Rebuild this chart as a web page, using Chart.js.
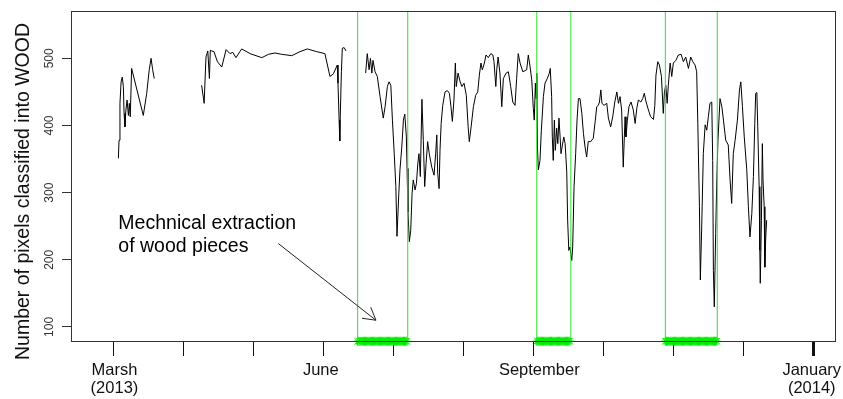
<!DOCTYPE html>
<html>
<head>
<meta charset="utf-8">
<script src="https://cdn.jsdelivr.net/npm/chart.js@4.4.1/dist/chart.umd.min.js"></script>
<style>
  html, body { margin: 0; padding: 0; background: #fff; }
  canvas { display: block; }
</style>
</head>
<body>
<canvas id="wood" width="843" height="399"></canvas>
<script>
// Time axis: days counted from 1 March 2013.
// Daily count of pixels classified into WOOD, three observation periods.
const series1Days = [2.2, 2.5, 2.9, 3.4, 3.9, 4.4, 4.7, 5.1, 5.5, 6.0, 6.6, 7.0, 7.4, 8.0, 13.1, 14.6, 15.7, 16.5, 17.2, 17.9];
const series1Wood = [351, 378, 433, 465, 472, 458, 418, 398, 423, 438, 415, 433, 413, 485, 415, 448, 483, 500, 483, 470];

const series2Days = [38.6, 39.7, 40.5, 41.3, 42.0, 42.4, 43.0, 44.0, 45.5, 47.4, 49.3, 51.0, 52.2, 53.6, 56.1, 59.8, 64.9, 67.8,
  70.7, 73.6, 78.0, 81.6, 84.8, 88.9, 92.5, 94.7, 96.2, 97.9, 98.2, 98.7, 99.0, 99.2, 99.7, 100.1, 100.9, 101.7];
const series2Wood = [460, 433, 502, 511, 470, 512, 511, 510, 495, 487, 513, 507, 509, 501, 514, 507, 501, 506,
  508, 506, 504, 510, 514, 510, 507, 473, 477, 490, 463, 408, 377, 413, 480, 515, 516, 511];

const series3Days = [
  110.3, 111.0, 111.8, 112.4, 113.0, 113.5, 114.4, 115.4, 116.6, 118.0, 118.8, 119.8, 120.5, 121.3, 122.0, 122.8, 123.5, 124.0, 124.8, 125.3,
  126.1, 126.8, 127.4, 128.1, 128.4, 128.8, 129.4, 130.0, 130.6, 131.1, 131.9, 132.5, 133.1, 133.6, 134.2, 134.9, 135.5, 136.1, 136.7, 137.4,
  138.1, 139.2, 140.2, 140.9, 141.4, 141.8, 142.4, 142.8, 143.3, 144.0, 145.0, 146.0, 146.9, 147.6, 148.2, 148.9, 149.5, 149.9, 150.7, 151.6,
  152.4, 153.3, 154.3, 155.1, 155.6, 156.4, 157.4, 158.4, 159.3, 160.0, 160.7, 161.3, 162.2, 162.9, 163.9, 165.0, 165.9, 166.4, 167.2, 167.6,
  168.2, 169.0, 169.8, 170.5, 171.7, 172.7, 173.7, 174.6, 175.6, 176.3, 177.0, 177.8, 179.0, 180.7, 181.4, 182.2, 182.9, 183.6, 184.0, 184.5,
  184.8, 185.1, 185.4, 185.8, 186.5, 187.1, 188.0, 188.7, 189.7, 190.6, 191.0, 191.6, 191.9, 192.3, 192.8, 193.2, 193.8, 194.3, 194.8, 195.3,
  195.7, 196.3, 196.9, 197.5, 198.2, 198.6, 199.1, 199.6, 200.4, 200.8, 201.4, 202.1, 202.7, 203.3, 204.0, 204.8, 205.5, 206.2, 206.9, 207.6,
  208.7, 209.8, 210.7, 211.3, 212.0, 212.5, 213.1, 213.6, 214.5, 215.7, 216.4, 217.4, 218.3, 219.2, 220.1, 220.8, 221.5, 222.2, 222.9, 223.7,
  224.1, 224.7, 225.4, 226.3, 227.3, 228.1, 228.8, 229.5, 230.6, 231.4, 232.1, 232.9, 233.9, 234.9, 236.1, 236.7, 237.2, 238.0, 238.7, 239.6,
  240.4, 240.9, 241.5, 242.1, 242.6, 243.4, 244.1, 244.8, 245.9, 247.0, 248.2, 249.2, 250.2, 251.4, 252.4, 253.3, 254.3, 255.0, 255.5, 256.2,
  256.6, 257.2, 257.9, 258.7, 259.4, 260.1, 260.8, 261.6, 262.0, 262.3, 262.7, 263.3, 263.8, 264.3, 265.2, 266.0, 266.7, 267.7, 268.8, 269.6,
  270.3, 271.0, 271.8, 272.8, 273.7, 274.3, 275.0, 275.8, 276.9, 277.6, 278.3, 279.1, 279.8, 280.4, 280.8, 281.3, 281.7, 282.3, 282.6, 282.8,
  283.3, 283.7, 284.0, 284.5, 284.8, 285.2, 285.6];
const series3Wood = [
  478, 507, 483, 500, 478, 497, 480, 473, 443, 411, 428, 458, 465, 460, 408, 358, 309, 235, 299, 334,
  368, 408, 417, 383, 336, 271, 227, 244, 299, 319, 304, 314, 343, 358, 324, 439, 378, 309, 343, 376,
  358, 338, 326, 358, 386, 329, 306, 363, 403, 430, 450, 452, 448, 428, 406, 438, 493, 458, 478, 465,
  458, 463, 445, 398, 376, 398, 428, 445, 450, 475, 493, 483, 493, 505, 501, 507, 505, 495, 458, 483,
  502, 478, 428, 470, 478, 480, 458, 435, 430, 470, 507, 493, 480, 483, 505, 487, 468, 425, 408, 463,
  440, 478, 368, 334, 348, 393, 443, 463, 470, 478, 485, 443, 383, 348, 408, 363, 396, 373, 411, 383,
  358, 371, 383, 373, 331, 259, 214, 219, 199, 219, 309, 358, 408, 440, 440, 418, 388, 368, 353, 376,
  376, 381, 408, 428, 430, 435, 453, 433, 430, 433, 411, 398, 413, 435, 450, 433, 443, 423, 338, 413,
  383, 408, 428, 435, 423, 403, 425, 438, 435, 440, 448, 435, 423, 413, 409, 430, 475, 495, 490, 473,
  418, 450, 460, 433, 460, 493, 473, 493, 497, 505, 506, 495, 502, 485, 502, 495, 490, 480, 403, 279,
  170, 249, 358, 401, 393, 413, 433, 435, 348, 184, 130, 239, 319, 378, 440, 428, 408, 378, 371, 319,
  284, 358, 378, 408, 453, 465, 428, 383, 334, 279, 234, 269, 324, 403, 448, 449, 398, 309, 214, 165,
  259, 373, 319, 279, 189, 234, 259];

// Periods of mechanical extraction of wood pieces (first and last day)
const extractionStart = [106.8, 185.1, 241.3];
const extractionEnd = [128.7, 200.0, 264.0];

// Month tick marks, month labels and value ticks
const monthTickDays = [0, 30.6, 61.2, 91.8, 122.4, 153, 183.6, 214.2, 244.8, 275.4, 306];
const yearTickDay = 306;
const monthLabelDays = [0.5, 90.7, 186.2, 305.3];
const monthLabels = [['Marsh', '(2013)'], 'June', 'September', ['January', '(2014)']];
const woodTicks = [100, 200, 300, 400, 500];

const yTitle = 'Number of pixels classified into WOOD';
const noteLines = ['Mechnical extraction', 'of wood pieces'];
const noteAnchor = { x: 2.2, y: 246.6 };
const noteLineGap = 23.3;
const arrowFrom = { x: 72.1, y: 224.3 };
const arrowTo = { x: 114.8, y: 110.0 };

// Axis extents
const X_MIN = -18.5, X_MAX = 315.9;
const Y_MIN = 77.6, Y_MAX = 570.5;
const MARK_LEVEL = 78.7;

const FONT = '"Liberation Sans", Arial, Helvetica, sans-serif';
const GREEN = 'rgb(40,230,40)';
const MARK_GREEN = 'rgb(0,235,0)';
const AXIS = '#333';

const zip = (xs, ys) => xs.map((x, i) => ({ x: x, y: ys[i] }));

const datasets = [];

// vertical boundaries of each extraction period
extractionStart.forEach((s, k) => {
  [s, extractionEnd[k]].forEach(d => {
    datasets.push({
      type: 'line',
      data: [{ x: d, y: Y_MIN }, { x: d, y: Y_MAX }],
      borderColor: GREEN, borderWidth: 1, pointRadius: 0, order: 0
    });
  });
});

// markers along the bottom of each extraction period
const markerPoints = [];
extractionStart.forEach((s, k) => {
  for (let d = s; d <= extractionEnd[k] + 1e-9; d += 0.5) markerPoints.push({ x: d, y: MARK_LEVEL });
});
datasets.push({
  type: 'line', data: markerPoints, showLine: false,
  pointStyle: 'star', pointRadius: 4.5, pointBorderWidth: 1,
  pointBorderColor: MARK_GREEN, pointBackgroundColor: MARK_GREEN, clip: false, order: 0
});

[[series1Days, series1Wood], [series2Days, series2Wood], [series3Days, series3Wood]].forEach(([d, w]) => {
  datasets.push({
    type: 'line', data: zip(d, w),
    borderColor: '#000', borderWidth: 1, pointRadius: 0, tension: 0, order: 1
  });
});

const frameAndNotes = {
  id: 'frameAndNotes',
  afterDatasetsDraw(chart) {
    const { ctx, chartArea: a, scales: { x, y } } = chart;
    ctx.save();
    // plot frame
    ctx.strokeStyle = AXIS;
    ctx.lineWidth = 1;
    ctx.strokeRect(a.left + 0.5, a.top + 0.5, a.right - a.left - 1, a.bottom - a.top - 1);

    // annotation text
    ctx.fillStyle = '#000';
    ctx.font = '19.5px ' + FONT;
    ctx.textAlign = 'left';
    ctx.textBaseline = 'alphabetic';
    const nx = x.getPixelForValue(noteAnchor.x);
    const ny = y.getPixelForValue(noteAnchor.y);
    noteLines.forEach((t, i) => ctx.fillText(t, nx, ny + i * noteLineGap));

    // arrow
    const x0 = x.getPixelForValue(arrowFrom.x), y0 = y.getPixelForValue(arrowFrom.y);
    const x1 = x.getPixelForValue(arrowTo.x), y1 = y.getPixelForValue(arrowTo.y);
    const ang = Math.atan2(y1 - y0, x1 - x0);
    const head = 14, spread = Math.PI / 6;
    ctx.strokeStyle = '#222';
    ctx.beginPath();
    ctx.moveTo(x0, y0);
    ctx.lineTo(x1, y1);
    ctx.moveTo(x1 - head * Math.cos(ang - spread), y1 - head * Math.sin(ang - spread));
    ctx.lineTo(x1, y1);
    ctx.lineTo(x1 - head * Math.cos(ang + spread), y1 - head * Math.sin(ang + spread));
    ctx.stroke();

    // y axis title
    ctx.translate(24, (a.top + a.bottom) / 2 + 15);
    ctx.rotate(-Math.PI / 2);
    ctx.textAlign = 'center';
    ctx.textBaseline = 'middle';
    ctx.fillStyle = '#111';
    ctx.font = '19.5px ' + FONT;
    ctx.fillText(yTitle, 0, 0);
    ctx.restore();
  }
};

new Chart(document.getElementById('wood'), {
  type: 'line',
  data: { datasets: datasets },
  options: {
    responsive: false,
    animation: false,
    devicePixelRatio: 1,
    layout: { padding: { top: 11, right: 7, left: 0, bottom: 0 } },
    plugins: { legend: { display: false }, tooltip: { enabled: false }, title: { display: false } },
    scales: {
      x: {
        type: 'linear', min: X_MIN, max: X_MAX,
        afterBuildTicks: s => {
          const t = monthTickDays.map(v => ({ value: v, mark: true, thick: v === yearTickDay, text: '' }));
          monthLabelDays.forEach((v, i) => t.push({ value: v, mark: false, text: monthLabels[i] }));
          t.sort((a, b) => a.value - b.value);
          s.ticks = t;
        },
        afterFit: s => { s.height = 57; },
        border: { display: false },
        grid: {
          display: true, drawOnChartArea: false, drawTicks: true, tickLength: 14,
          tickColor: c => (c.tick && c.tick.mark ? '#111' : 'rgba(0,0,0,0)'),
          tickWidth: c => (c.tick && c.tick.thick ? 3 : 1)
        },
        ticks: {
          autoSkip: false, maxRotation: 0, minRotation: 0, padding: 5,
          color: '#111', font: { family: FONT, size: 16.5, lineHeight: 1.12 },
          callback: (v, i, ticks) => ticks[i].text
        }
      },
      y: {
        type: 'linear', min: Y_MIN, max: Y_MAX,
        afterBuildTicks: s => { s.ticks = woodTicks.map(v => ({ value: v })); },
        afterFit: s => { s.width = 71; },
        border: { display: false },
        grid: { display: true, drawOnChartArea: false, drawTicks: true, tickLength: 9, tickColor: AXIS },
        ticks: {
          minRotation: 90, maxRotation: 90, crossAlign: 'center', padding: 2,
          color: '#333', font: { family: FONT, size: 12 }
        }
      }
    }
  },
  plugins: [frameAndNotes]
});
</script>
</body>
</html>
